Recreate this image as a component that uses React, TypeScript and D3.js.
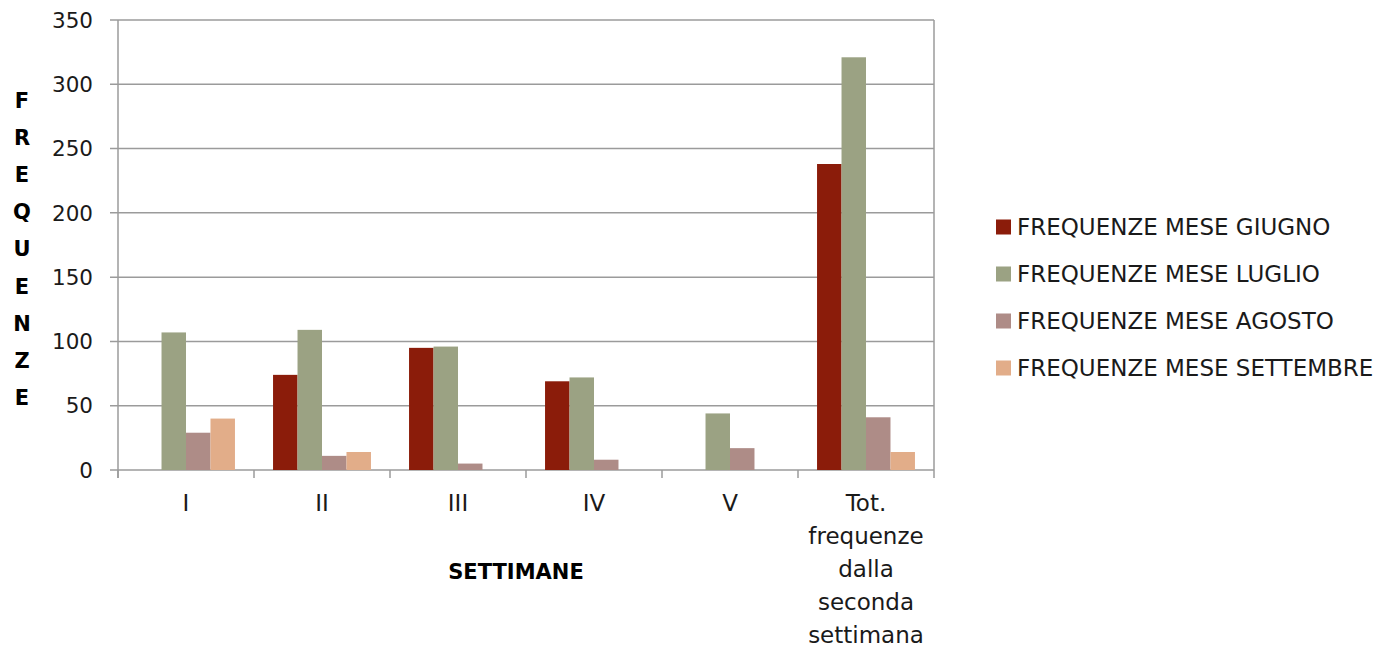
import React from "react";
import * as d3 from "d3";

const categories = ["I", "II", "III", "IV", "V", "Tot. frequenze dalla seconda settimana"];
const seriesNames = [
  "FREQUENZE MESE GIUGNO",
  "FREQUENZE MESE LUGLIO",
  "FREQUENZE MESE AGOSTO",
  "FREQUENZE MESE SETTEMBRE",
];
const giugno = [0, 74, 95, 69, 0, 238];
const luglio = [107, 109, 96, 72, 44, 321];
const agosto = [29, 11, 5, 8, 17, 41];
const settembre = [40, 14, 0, 0, 0, 14];
const yTicks = [0, 50, 100, 150, 200, 250, 300, 350];
const colors = ["#8B1C0A", "#9BA283", "#AE8C87", "#E2AD89"];
const yTitle = "FREQUENZE";
const xTitle = "SETTIMANE";

const seriesValues = [giugno, luglio, agosto, settembre];

const W = 1385;
const H = 647;
const left = 118;
const right = 934;
const top = 20;
const bottom = 470;
const FONT = "'DejaVu Sans', sans-serif";

export default function App() {
  const x0 = d3.scaleBand<string>().domain(categories).range([left, right]).paddingInner(0.28).paddingOuter(0.14);
  const x1 = d3.scaleBand<number>().domain(d3.range(seriesValues.length)).range([0, x0.bandwidth()]);
  const y = d3.scaleLinear().domain([0, 350]).range([bottom, top]);
  const step = (right - left) / categories.length;
  const catCenter = (i: number) => left + step * (i + 0.5);
  const groupStart = (i: number) => catCenter(i) - x0.bandwidth() / 2;

  return (
    <svg width={W} height={H} style={{ position: "absolute", left: 0, top: 0 }}>
      <rect width={W} height={H} fill="#fff" />
      {yTicks.map((t) => (
        <g key={t}>
          <line x1={left - 8} x2={right} y1={y(t)} y2={y(t)} stroke="#9b9b9b" strokeWidth={1.5} />
          <text x={93} y={y(t)} dy="0.36em" textAnchor="end" fontFamily={FONT} fontSize={21.5} fill="#1a1a1a">
            {t}
          </text>
        </g>
      ))}
      <line x1={left} x2={left} y1={top} y2={bottom + 8} stroke="#9b9b9b" strokeWidth={1.5} />
      <line x1={right} x2={right} y1={top} y2={bottom} stroke="#9b9b9b" strokeWidth={1.5} />
      {d3.range(categories.length + 1).map((i) => (
        <line key={i} x1={left + step * i} x2={left + step * i} y1={bottom} y2={bottom + 8} stroke="#9b9b9b" strokeWidth={1.5} />
      ))}
      {categories.map((c, ci) =>
        seriesValues.map((vals, si) =>
          vals[ci] > 0 ? (
            <rect
              key={c + si}
              x={groupStart(ci) + (x1(si) as number)}
              y={y(vals[ci])}
              width={x1.bandwidth()}
              height={bottom - y(vals[ci])}
              fill={colors[si]}
            />
          ) : null
        )
      )}
      {categories.map((c, ci) => {
        const lines = ci === 5 ? ["Tot.", "frequenze", "dalla", "seconda", "settimana"] : [c];
        return (
          <text key={c} x={catCenter(ci)} y={511} textAnchor="middle" fontFamily={FONT} fontSize={23} fill="#1a1a1a">
            {lines.map((l, li) => (
              <tspan key={li} x={catCenter(ci)} dy={li === 0 ? 0 : 33}>
                {l}
              </tspan>
            ))}
          </text>
        );
      })}
      <text x={516} y={579} textAnchor="middle" fontFamily={FONT} fontWeight="bold" fontSize={21} fill="#000">
        {xTitle}
      </text>
      {yTitle.split("").map((ch, i) => (
        <text key={i} x={22} y={108 + i * 37.1} textAnchor="middle" fontFamily={FONT} fontWeight="bold" fontSize={21} fill="#000">
          {ch}
        </text>
      ))}
      {seriesNames.map((n, i) => (
        <g key={n} transform={`translate(996, ${227 + i * 47})`}>
          <rect x={0} y={-7.5} width={15} height={15} fill={colors[i]} />
          <text x={21} y={0} dy="0.36em" fontFamily={FONT} fontSize={23} fill="#1a1a1a">
            {n}
          </text>
        </g>
      ))}
    </svg>
  );
}
